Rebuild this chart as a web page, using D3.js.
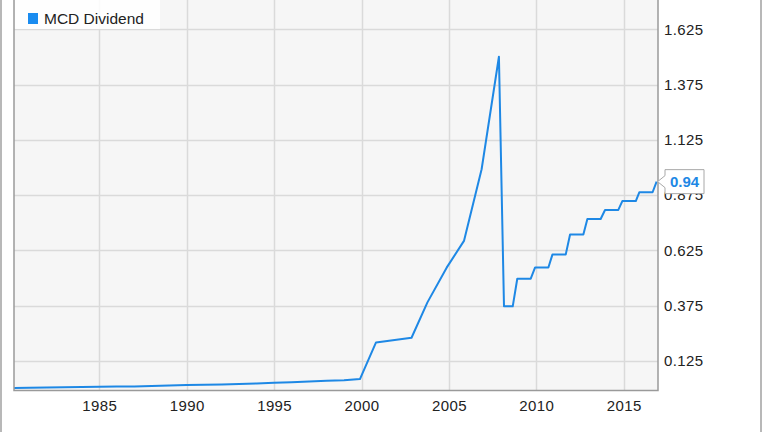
<!DOCTYPE html>
<html><head><meta charset="utf-8">
<script src="https://cdn.jsdelivr.net/npm/d3@7"></script>
<style>html,body{margin:0;padding:0;background:#fff;}svg{display:block;}</style>
</head><body>
<svg id="c" width="764" height="432"></svg>
<script>
const seriesName = "MCD Dividend";
const years = [1980.12,1981,1982,1983,1984,1985,1986,1987,1988,1989,1990,1991,1992,1993,1994,1995,1996,1997,1998,1999,1999.91,
  2000.83,2002.86,2003.77,2004.87,2005.86,2006.87,2007.86,2008.15,2008.65,2008.91,2009.68,2009.93,2010.69,2010.92,2011.68,2011.93,
  2012.69,2012.92,2013.68,2013.93,2014.69,2014.92,2015.69,2015.89,2016.65,2016.88];
const dividends = [0.003,0.004,0.005,0.006,0.007,0.008,0.009,0.010,0.012,0.014,0.016,0.017,0.019,0.021,0.023,0.026,0.029,0.032,0.035,0.038,0.043,
  0.209,0.230,0.390,0.547,0.668,0.992,1.501,0.372,0.372,0.497,0.497,0.548,0.548,0.606,0.606,0.697,
  0.697,0.767,0.767,0.808,0.808,0.848,0.848,0.888,0.888,0.936];
const yTicks = [0.125,0.375,0.625,0.875,1.125,1.375,1.625];
const xTicks = [1985,1990,1995,2000,2005,2010,2015];
const lastLabel = "0.94";

const svg = d3.select("#c");
const L = 14, R = 658, T = 0, B = 390.5;
const x = d3.scaleLinear().domain([1980.12, 2016.96]).range([L, R]);
const y = d3.scaleLinear().domain([-0.0086, 1.7576]).range([B, T]);
const font = "'Liberation Sans', Arial, sans-serif";

// outer frame
svg.append("line").attr("x1",1).attr("x2",1).attr("y1",0).attr("y2",432).attr("stroke","#a0a0a0").attr("stroke-width",1.5);
svg.append("line").attr("x1",761).attr("x2",761).attr("y1",0).attr("y2",432).attr("stroke","#a0a0a0").attr("stroke-width",1.5);

// plot background
svg.append("rect").attr("x",L).attr("y",T-2).attr("width",R-L).attr("height",B-T+2).attr("fill","#f6f6f6");

// grid
const g = svg.append("g");
g.selectAll("line.h").data(yTicks).join("line")
  .attr("x1",L).attr("x2",R).attr("y1",d=>Math.round(y(d))+0.5).attr("y2",d=>Math.round(y(d))+0.5)
  .attr("stroke","#dadada").attr("stroke-width",1.5);
g.selectAll("line.v").data(xTicks).join("line")
  .attr("y1",T).attr("y2",B).attr("x1",d=>Math.round(x(d))+0.5).attr("x2",d=>Math.round(x(d))+0.5)
  .attr("stroke","#dadada").attr("stroke-width",1.5);

// line
const pts = years.map((yr,i)=>[yr,dividends[i]]);
svg.append("path").datum(pts)
  .attr("d", d3.line().x(d=>x(d[0])).y(d=>y(d[1])))
  .attr("fill","none").attr("stroke","#1e88e5").attr("stroke-width",2).attr("stroke-linejoin","round");

// plot border
svg.append("path").attr("d",`M${L},${T-2}V${B}H${R}V${T-2}`).attr("fill","none").attr("stroke","#9a9a9a").attr("stroke-width",1.5);

// y axis labels
const yAxis = d3.axisRight(y).tickValues(yTicks).tickSize(0).tickPadding(6).tickFormat(d3.format(".3f"));
const ya = svg.append("g").attr("transform",`translate(${R},0)`).call(yAxis);
ya.select(".domain").remove();
ya.selectAll("text").attr("font-family",font).attr("font-size",15).attr("fill","#222").attr("letter-spacing",0.4);

// x axis labels
const xAxis = d3.axisBottom(x).tickValues(xTicks).tickSize(0).tickPadding(10).tickFormat(d3.format("d"));
const xa = svg.append("g").attr("transform",`translate(0,${B})`).call(xAxis);
xa.select(".domain").remove();
xa.selectAll("text").attr("font-family",font).attr("font-size",15).attr("fill","#222").attr("letter-spacing",0.4);

// legend
svg.append("rect").attr("x",L+1).attr("y",0).attr("width",145).attr("height",29).attr("fill","#ffffff").attr("opacity",0.85);
svg.append("rect").attr("x",28).attr("y",13).attr("width",10).attr("height",11).attr("fill","#1a8cf0");
svg.append("text").attr("x",44).attr("y",24).attr("font-family",font).attr("font-size",15.5).attr("fill","#222").text(seriesName);

// last value callout
const lx = x(years[years.length-1]), ly = y(dividends[dividends.length-1]);
const bx = 665, bw = 39, bh = 24, by = ly - bh/2;
svg.append("path")
  .attr("d",`M${bx},${by}H${bx+bw}V${by+bh}H${bx}V${ly+6}L${lx+1},${ly}L${bx},${ly-6}Z`)
  .attr("fill","#fff").attr("stroke","#a8a8a8").attr("stroke-width",1);
svg.append("text").attr("x",bx+bw/2).attr("y",ly+5.5).attr("text-anchor","middle")
  .attr("font-family",font).attr("font-size",15).attr("font-weight","bold").attr("fill","#1e88e5").text(lastLabel);
</script>
</body></html>
